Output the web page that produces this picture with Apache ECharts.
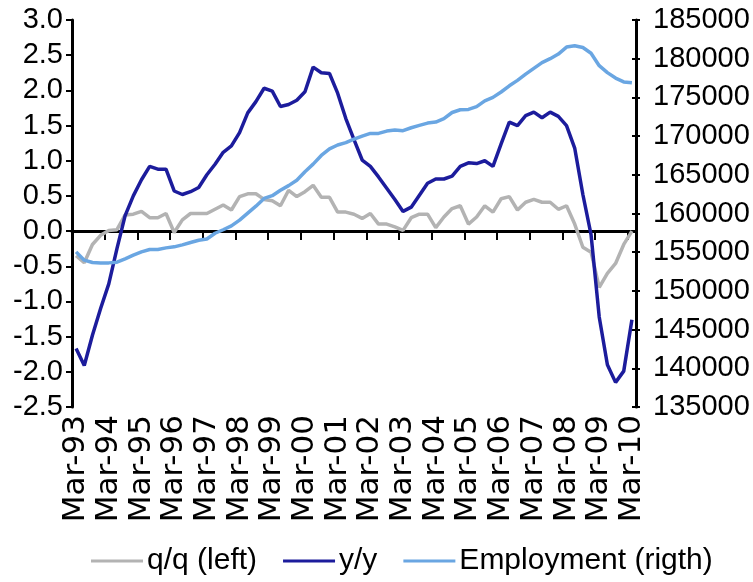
<!DOCTYPE html>
<html>
<head>
<meta charset="utf-8">
<script src="https://cdn.jsdelivr.net/npm/echarts@6/dist/echarts.min.js"></script>
<style>
html,body{margin:0;padding:0;background:#fff;}
#chart{width:753px;height:582px;}
</style>
</head>
<body>
<div id="chart"></div>
<script>
const categories = [
 'Mar-93','Jun-93','Sep-93','Dec-93','Mar-94','Jun-94','Sep-94','Dec-94',
 'Mar-95','Jun-95','Sep-95','Dec-95','Mar-96','Jun-96','Sep-96','Dec-96',
 'Mar-97','Jun-97','Sep-97','Dec-97','Mar-98','Jun-98','Sep-98','Dec-98',
 'Mar-99','Jun-99','Sep-99','Dec-99','Mar-00','Jun-00','Sep-00','Dec-00',
 'Mar-01','Jun-01','Sep-01','Dec-01','Mar-02','Jun-02','Sep-02','Dec-02',
 'Mar-03','Jun-03','Sep-03','Dec-03','Mar-04','Jun-04','Sep-04','Dec-04',
 'Mar-05','Jun-05','Sep-05','Dec-05','Mar-06','Jun-06','Sep-06','Dec-06',
 'Mar-07','Jun-07','Sep-07','Dec-07','Mar-08','Jun-08','Sep-08','Dec-08',
 'Mar-09','Jun-09','Sep-09','Dec-09','Mar-10'
];
const qoq = [
 -0.35,-0.45,-0.19,-0.06,0.01,0.02,0.23,0.24,
 0.28,0.19,0.19,0.25,-0.02,0.16,0.25,0.25,
 0.25,0.31,0.37,0.30,0.49,0.53,0.53,0.45,
 0.43,0.36,0.58,0.49,0.56,0.65,0.48,0.48,
 0.27,0.27,0.24,0.18,0.25,0.10,0.10,0.06,
 0.01,0.19,0.24,0.24,0.05,0.20,0.32,0.36,
 0.10,0.20,0.36,0.27,0.46,0.49,0.30,0.41,
 0.45,0.41,0.41,0.31,0.36,0.10,-0.23,-0.30,
 -0.80,-0.60,-0.46,-0.19,0.00
];
const yoy = [
 -1.67,-1.91,-1.48,-1.10,-0.75,-0.25,0.22,0.50,
 0.73,0.92,0.88,0.88,0.57,0.52,0.56,0.62,
 0.80,0.95,1.12,1.21,1.40,1.68,1.84,2.03,
 1.99,1.77,1.80,1.86,1.98,2.33,2.25,2.24,
 1.96,1.60,1.30,1.01,0.92,0.77,0.61,0.45,
 0.28,0.34,0.51,0.68,0.74,0.74,0.78,0.92,
 0.97,0.96,1.00,0.92,1.24,1.55,1.50,1.64,
 1.69,1.61,1.69,1.63,1.50,1.18,0.52,-0.05,
 -1.22,-1.90,-2.15,-1.99,-1.26
];
const employment = [
 155040,153970,153670,153620,153620,153710,154140,154620,
 155040,155350,155350,155560,155690,155950,156260,156550,
 156700,157450,157900,158400,159150,160050,160950,161950,
 162300,163000,163600,164300,165400,166380,167500,168350,
 168850,169150,169600,170000,170350,170350,170650,170780,
 170700,171080,171380,171680,171810,172250,173050,173400,
 173450,173800,174550,175000,175700,176500,177200,178000,
 178750,179500,180000,180600,181500,181680,181450,180700,
 179100,178200,177500,177000,176900
];
const seriesNames = ['q/q (left)', 'y/y', 'Employment (rigth)'];

const FONT = 'Liberation Sans, Arial, sans-serif';
const chart = echarts.init(document.getElementById('chart'), null, {renderer: 'canvas'});
chart.setOption({
  animation: false,
  backgroundColor: '#ffffff',
  grid: {left: 72, right: 117, top: 20, bottom: 175, containLabel: false},
  legend: {
    bottom: 1, left: 86,
    itemWidth: 52, itemHeight: 3, itemGap: 26, icon: 'rect',
    textStyle: {fontFamily: FONT, fontSize: 30, color: '#000', padding: [0, 0, 0, -1]},
    data: seriesNames
  },
  xAxis: [
    {
      type: 'category', data: categories, boundaryGap: true, position: 'bottom',
      axisLine: {show: false, onZero: false},
      axisTick: {show: false},
      axisLabel: {interval: 3, rotate: 90, margin: 8, fontFamily: 'DejaVu Sans, sans-serif', fontSize: 31, color: '#000'}
    },
    {
      type: 'category', data: categories, boundaryGap: true, position: 'bottom',
      axisLine: {show: true, onZero: true, onZeroAxisIndex: 0, lineStyle: {color: '#000', width: 3}},
      axisTick: {show: true, interval: 3, length: 9, lineStyle: {color: '#000', width: 2}},
      axisLabel: {show: false}
    }
  ],
  yAxis: [
    {
      type: 'value', position: 'left', min: -2.5, max: 3, interval: 0.5,
      splitLine: {show: false},
      axisLine: {show: true, lineStyle: {color: '#000', width: 3}},
      axisTick: {show: true, length: 6, lineStyle: {color: '#000', width: 2}},
      axisLabel: {margin: 9, fontFamily: FONT, fontSize: 29, color: '#000',
        formatter: v => v.toFixed(1)}
    },
    {
      type: 'value', position: 'right', min: 135000, max: 185000, interval: 5000,
      splitLine: {show: false},
      axisLine: {show: true, lineStyle: {color: '#000', width: 3}},
      axisTick: {show: true, length: 4, lineStyle: {color: '#000', width: 2}},
      axisLabel: {margin: 17, fontFamily: FONT, fontSize: 29, color: '#000',
        formatter: v => String(Math.round(v))}
    },
    {
      type: 'value', position: 'right', min: 135000, max: 185000, interval: 5000,
      splitLine: {show: false},
      axisLine: {show: false},
      axisTick: {show: true, inside: true, length: 4, lineStyle: {color: '#000', width: 2}},
      axisLabel: {show: false}
    }
  ],
  series: [
    {name: seriesNames[0], type: 'line', xAxisIndex: 0, yAxisIndex: 0, data: qoq,
     symbol: 'none', lineStyle: {color: '#B3B3B3', width: 3.5}, itemStyle: {color: '#B3B3B3'}},
    {name: seriesNames[1], type: 'line', xAxisIndex: 0, yAxisIndex: 0, data: yoy,
     symbol: 'none', lineStyle: {color: '#1C1C9C', width: 3.5}, itemStyle: {color: '#1C1C9C'}},
    {name: seriesNames[2], type: 'line', xAxisIndex: 0, yAxisIndex: 1, data: employment,
     symbol: 'none', lineStyle: {color: '#6AA6E2', width: 3.5}, itemStyle: {color: '#6AA6E2'}}
  ]
});
</script>
</body>
</html>
